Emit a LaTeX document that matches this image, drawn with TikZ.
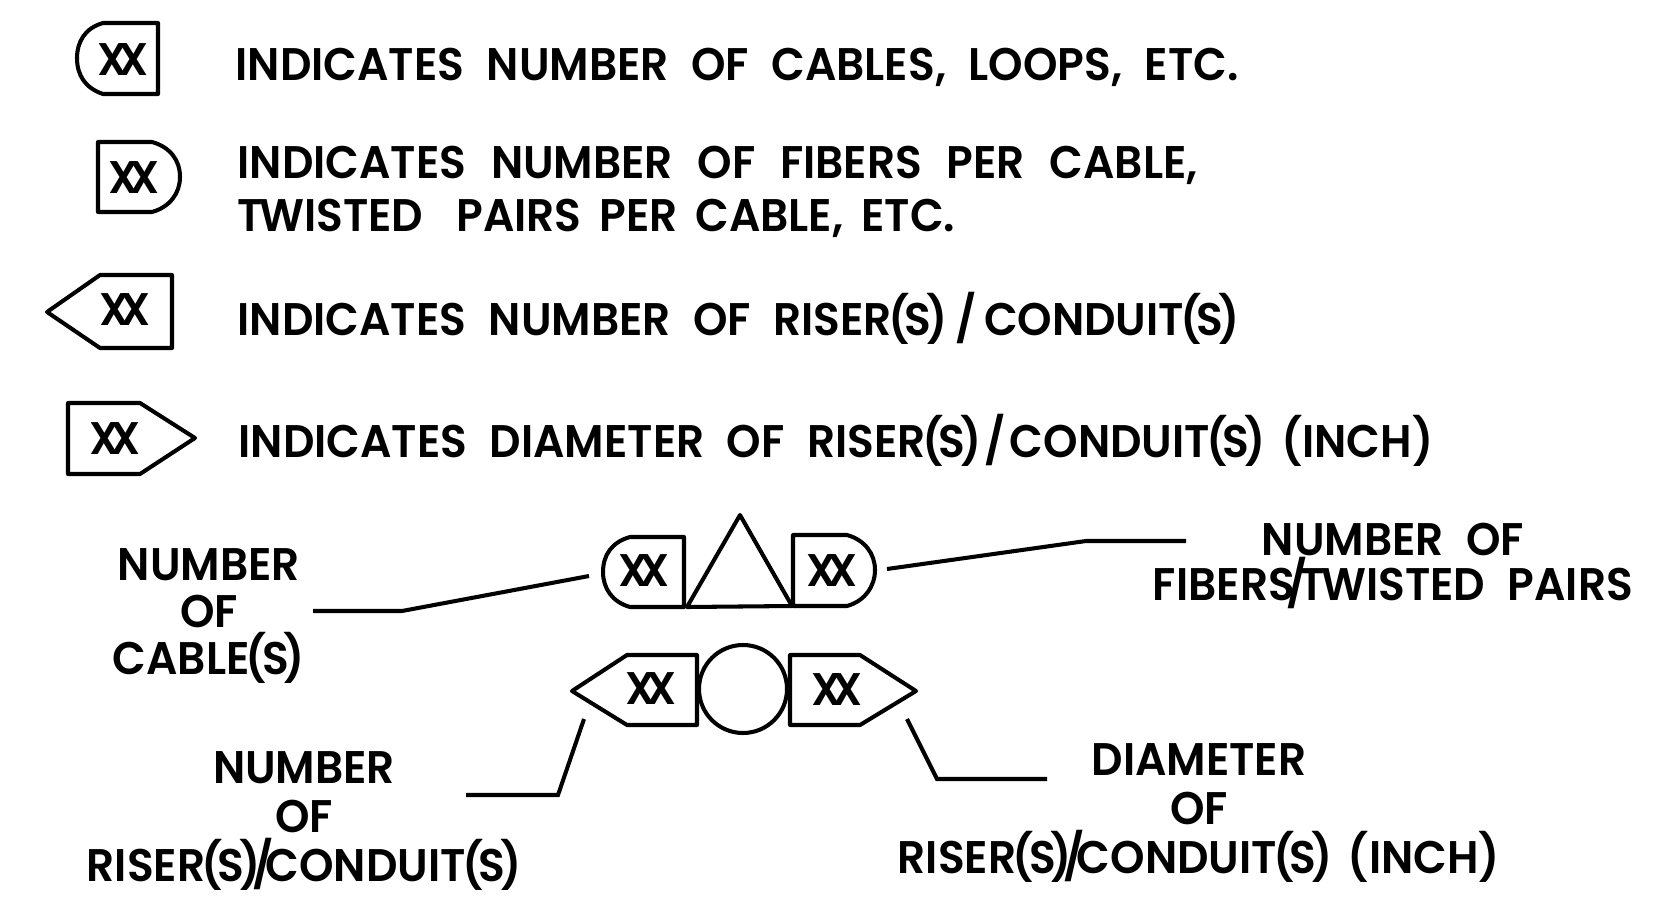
\documentclass[tikz,border=0pt]{standalone}
\usepackage{fontspec}
\setmainfont{Poppins}[UprightFont=* Medium,BoldFont=* SemiBold,FakeStretch=0.96,WordSpace=2.15]
\usepackage{tikz}
\tikzset{
  sym/.style={line width=1.15pt,line join=round},
  lead/.style={line width=1.15pt},
  desc/.style={anchor=base west,inner sep=0pt,font=\fontsize{13}{13}\selectfont\bfseries},
  tag/.style={inner sep=0pt,font=\fontsize{13}{13}\selectfont\bfseries},
  callout/.style={inner sep=0pt,align=center,font=\fontsize{13}{13}\selectfont\bfseries}
}
\newcommand{\xx}{X\kern-0.18emX}
\newcommand{\pS}{\kern-.08em(\kern-.11em S\kern-.11em)}
\newcommand{\tightslash}{\kern-.18em/\kern-.18em}
\begin{document}
\begin{tikzpicture}[x=0.01cm,y=-0.01cm]
  \useasboundingbox (0,0) rectangle (1667,897);

  % key symbols
  \draw[sym] (158,23)--(158,94)--(103,94) .. controls (85,88) and (77,75) .. (77,58) .. controls (77,42) and (85,28) .. (103,23)--cycle;
  \draw[sym] (98,142)--(98,212)--(152,212) .. controls (170,207) and (180,193) .. (180,177) .. controls (180,160) and (170,147) .. (152,142)--cycle;
  \draw[sym] (172,275)--(172,348)--(100,348)--(47,312)--(100,275)--cycle;
  \draw[sym] (68,403)--(68,474)--(140,474)--(195,438)--(140,403)--cycle;
  \node[tag] (xxcables) at (123,60) {\xx};
  \node[tag] (xxfibers) at (134,178) {\xx};
  \node[tag] (xxrisers) at (125,310) {\xx};
  \node[tag] (xxdiam) at (115,439) {\xx};

  \node[desc] (desccables) at (235,80) {INDICATES NUMBER OF CABLES, LOOPS, ETC.};
  \node[desc] (descfibers) at (237,178) {INDICATES\kern.05em\ NUMBER\kern.05em\ OF\kern.05em\ FIBERS\kern.05em\ PER\kern.05em\ CABLE,};
  \node[desc] (desctwisted) at (237,231) {T\kern-.08emWISTED\ \kern3pt PAIRS\kern-.1em\ PER\kern-.1em\ CABLE,\kern-.1em\ ETC.};
  \node[desc] (descrisers) at (237,335) {INDICATES NUMBER OF RISER\pS\,/\,CONDUIT\pS};
  \node[desc] (descdiam) at (238,457) {INDICATES DIAMETER OF RISER\pS\kern.08em/\kern.08emCONDUIT\pS\kern-.15em\ (INCH)};

  % cable symbol
  \draw[sym] (684,537)--(684,607)--(630,607) .. controls (612,602) and (603,588) .. (603,572) .. controls (603,555) and (612,542) .. (630,537)--cycle;
  \draw[sym] (687,607)--(740,515)--(792,606)--cycle;
  \draw[sym] (793,535)--(793,606)--(847,606) .. controls (865,601) and (875,586) .. (875,570) .. controls (875,554) and (865,540) .. (847,535)--cycle;
  \node[tag] (xxleft) at (644,571) {\xx};
  \node[tag] (xxright) at (832,571) {\xx};

  % riser symbol
  \draw[sym] (697,655)--(697,725)--(627,725)--(572,691)--(627,655)--cycle;
  \draw[sym] (743,689) circle [x radius=44,y radius=44];
  \draw[sym] (790,655)--(790,725)--(860,725)--(916,691)--(860,655)--cycle;
  \node[tag] (xxlower) at (651,689) {\xx};
  \node[tag] (xxupper) at (837,690) {\xx};

  \node[callout] (numcables) at (209,616) {NUMBER\\[.5pt]OF\\[.5pt]CABLE\pS};
  \node[callout] (numfibers) at (1393,566) {NUMBER OF\\FIBERS\tightslash T\kern-.08emWISTED\ PAIRS};
  \node[callout] (numrisers) at (304,821) {NUMBER\\[1pt]OF\\[1pt]RISER\pS\tightslash CONDUIT\pS};
  \node[callout] (diam) at (1199,813) {DIAMETER\\[1pt]OF\\[1pt]RISER\pS\tightslash CONDUIT\pS\kern-.15em\ (INCH)};

  \coordinate (cablefrom) at (313,611);
  \coordinate (cablebend) at (402,611);
  \coordinate (cableto) at (589,576);
  \coordinate (fiberfrom) at (1186,541);
  \coordinate (fiberbend) at (1086,541);
  \coordinate (fiberto) at (887,569);
  \coordinate (riserfrom) at (466,795);
  \coordinate (riserbend) at (558,795);
  \coordinate (riserto) at (584,719);
  \coordinate (diamfrom) at (1047,779);
  \coordinate (diambend) at (937,779);
  \coordinate (diamto) at (907,719);

  \draw[lead] (cablefrom)--(cablebend)--(cableto);
  \draw[lead] (fiberfrom)--(fiberbend)--(fiberto);
  \draw[lead] (riserfrom)--(riserbend)--(riserto);
  \draw[lead] (diamfrom)--(diambend)--(diamto);
\end{tikzpicture}
\end{document}
